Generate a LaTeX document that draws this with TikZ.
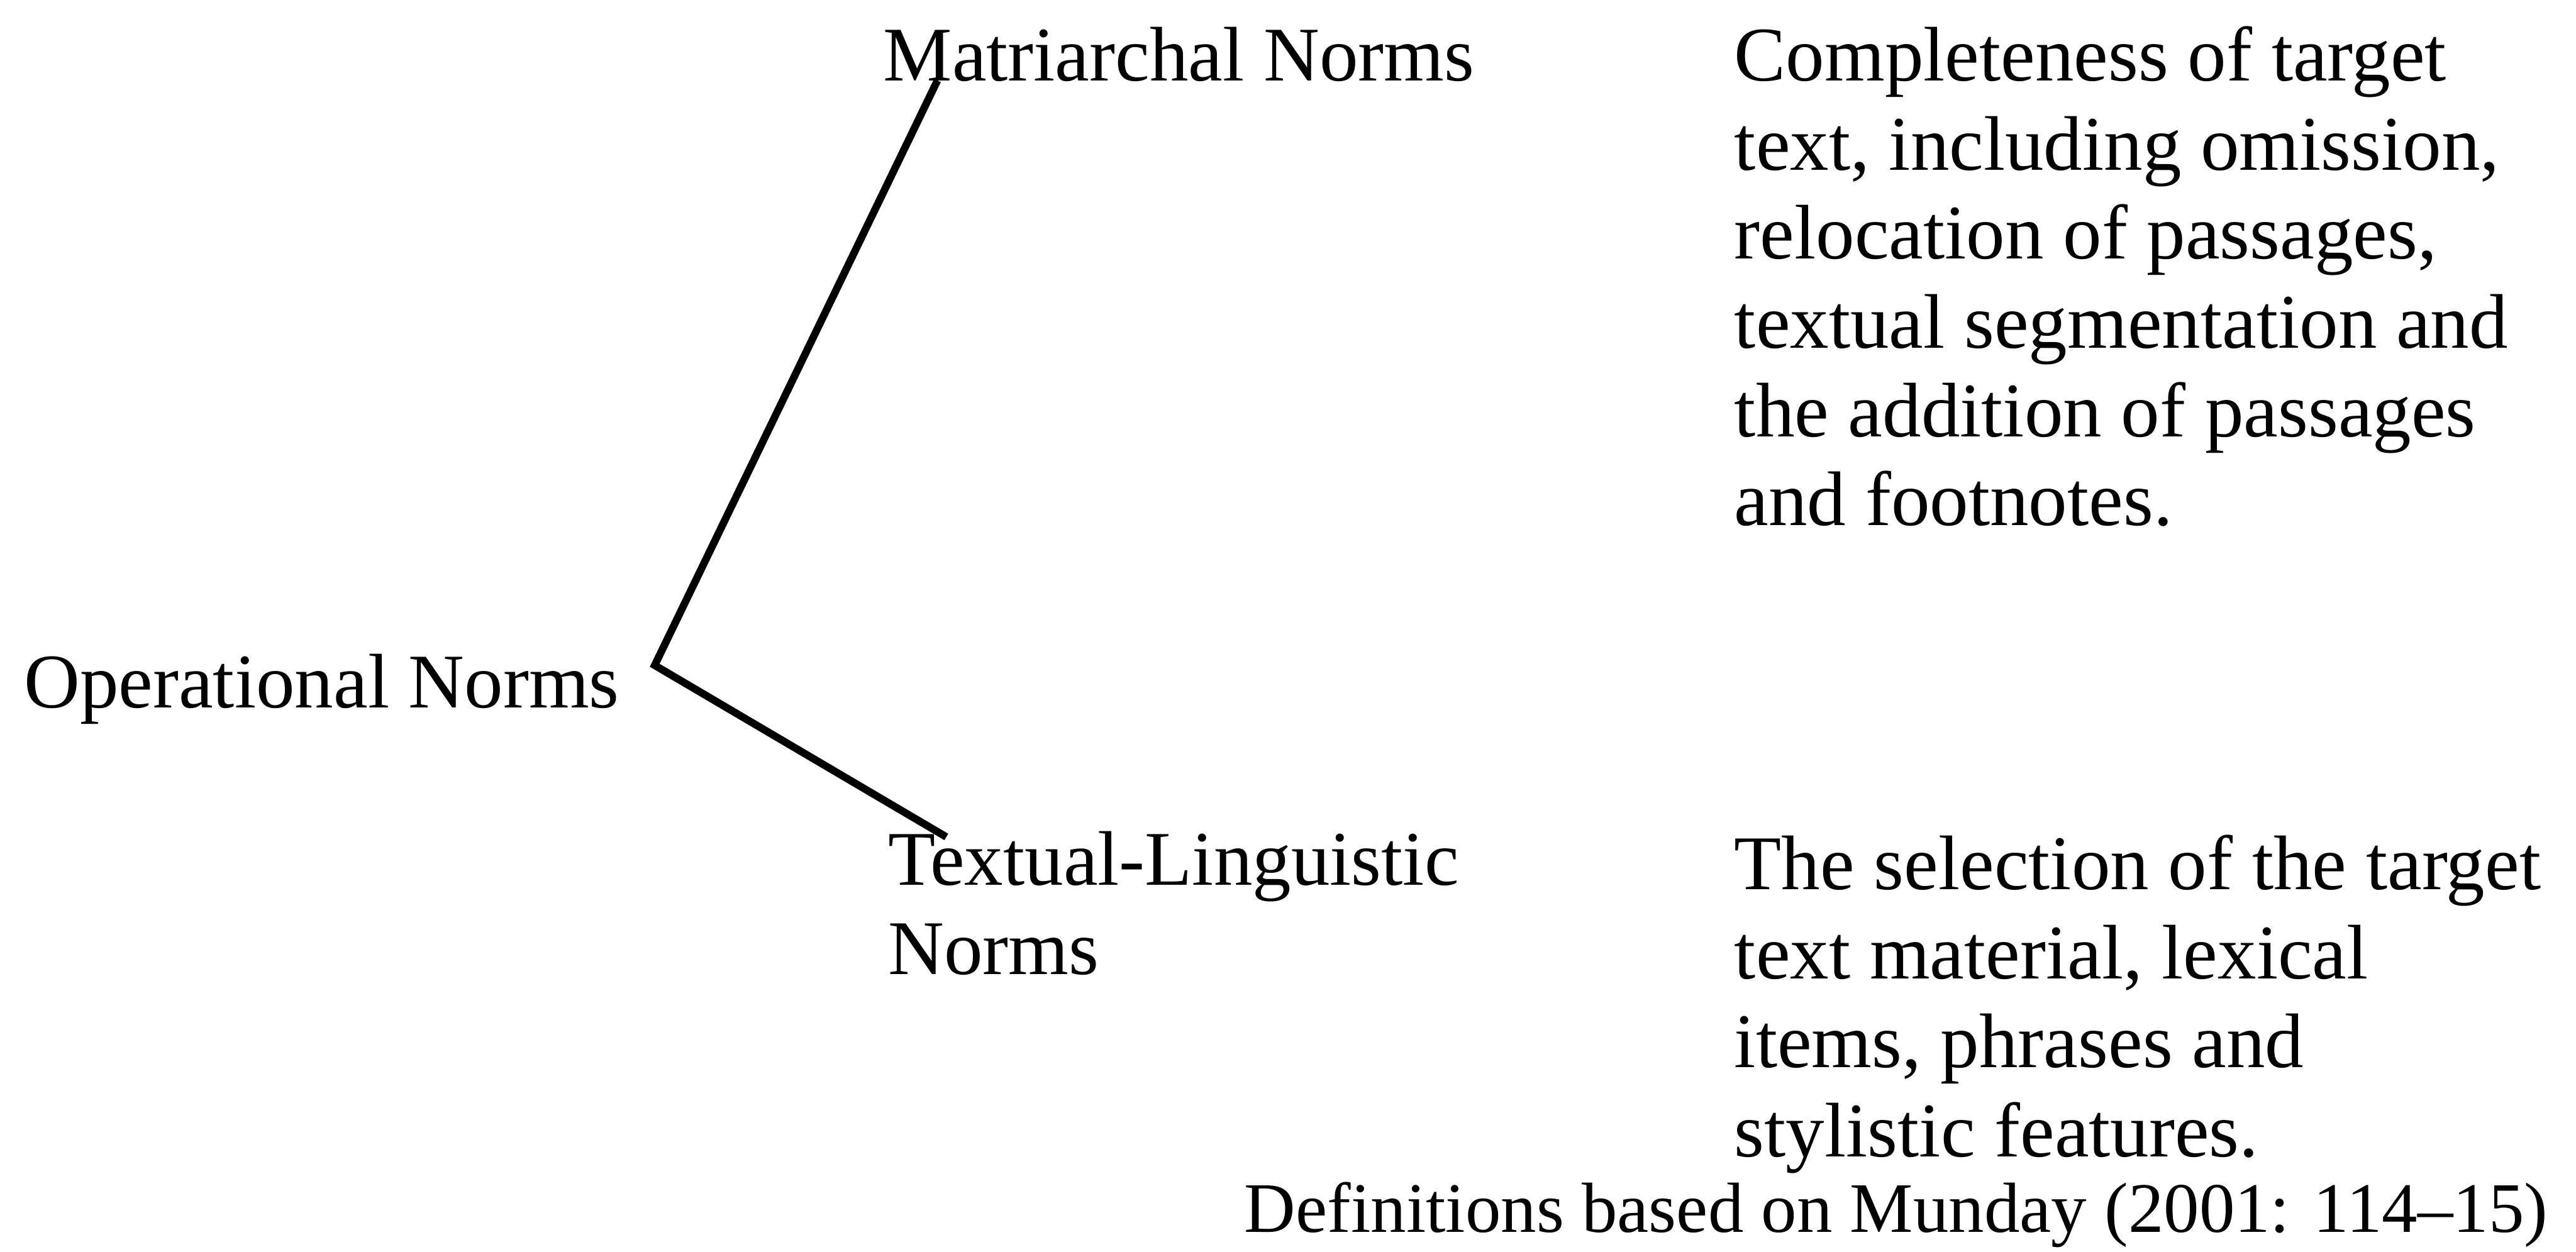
\documentclass[tikz,border=0pt]{standalone}
\usepackage{fontspec}
\setmainfont{Liberation Serif}
\usetikzlibrary{positioning}
\tikzset{txt/.style = {inner sep=0pt, align=left, anchor=base west,
  font=\fontsize{13.4}{15.4}\selectfont}}
\tikzset{branch/.style = {line width=1.3pt, line join=miter}}

\begin{document}
\begin{tikzpicture}
\useasboundingbox (0,0) rectangle (15.68,-7.62);

\node[txt] (op) at (0.14,-4.31) {Operational Norms};
\node[txt] (mat) at (5.37,-0.49) {Matriarchal Norms};
\node[txt] (tex) at (5.40,-5.93) {Textual-Linguistic\\Norms};

% base of a multi-line node = its last line
\node[txt] (matdef) at (10.55,-3.20) {Completeness of target\\text, including omission,\\relocation of passages,\\textual segmentation and\\the addition of passages\\and footnotes.};
\node[txt] (texdef) at (10.55,-7.04) {The selection of the target\\text material, lexical\\items, phrases and\\stylistic features.};

\node[txt, anchor=base east, font=\fontsize{12.3}{14}\selectfont] (src) at (15.515,-7.50) {Definitions based on Munday (2001: 114--15)};

% the fork
\coordinate (fork) at (3.985,-4.05);
\coordinate (matend) at ([xshift=0.336cm]mat.base west);
\coordinate (texend) at ([xshift=0.36cm,yshift=-0.04cm]tex.north west);
\draw[branch] (matend) -- (fork) -- (texend);

\end{tikzpicture}
\end{document}
